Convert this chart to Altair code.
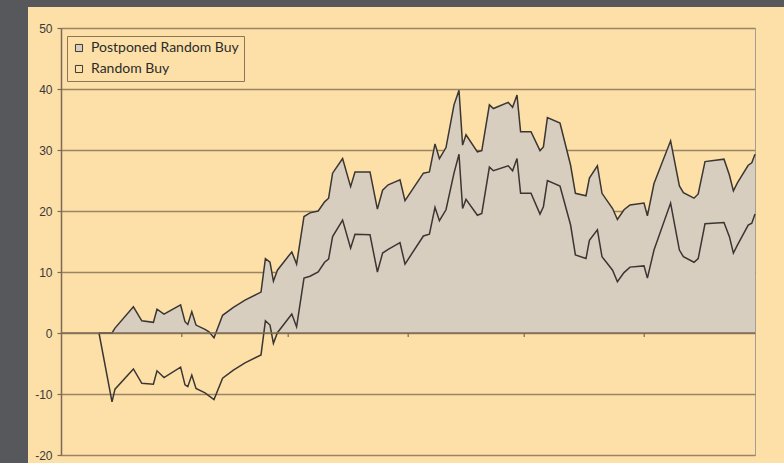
import altair as alt
import pandas as pd

# ---- data ----
days = [9.5, 12.75, 13.5, 18.1, 20.2, 23.1, 24, 25.75, 29.9, 31,
        31.7, 32.7, 33.75, 36, 37, 38.25, 40.4, 43.1, 46, 50,
        51.1, 52.25, 53.1, 54.1, 57.7, 58.9, 60.75, 62.25, 64.3, 65.9,
        66.9, 67.9, 70.4, 72.4, 73.5, 77.25, 79.1, 80.4, 81.8, 84.75,
        86, 90.6, 92.1, 93.5, 94.6, 96.25, 98.25, 99.5, 100.4, 101.25,
        104.1, 105.2, 107.1, 108.1, 111.8, 112.9, 114, 114.9, 117.5, 119.75,
        120.6, 121.6, 124.75, 127.4, 128.6, 131.25, 132.1, 134.1, 135.25, 137.9,
        139.1, 140.75, 142.25, 145.75, 146.6, 148.25, 152.4, 154.6, 155.6, 158.25,
        159.3, 161, 165.75, 167.1, 168.1, 169.1, 171.8, 172.7, 173.5]

postponed = [0, 0, 0.8, 4.3, 2.0, 1.75, 3.9, 3.1, 4.6, 1.85,
             1.4, 3.5, 1.3, 0.6, 0.2, -0.8, 2.9, 4.2, 5.4, 6.7,
             12.2, 11.6, 8.5, 10.3, 13.3, 11.3, 19.1, 19.7, 20.0, 21.5,
             22.1, 26.2, 28.6, 24.0, 26.4, 26.4, 20.3, 23.4, 24.3, 25.1,
             21.7, 26.2, 26.4, 31.0, 28.6, 30.4, 37.4, 39.8, 30.8, 32.5,
             29.7, 29.9, 37.4, 36.8, 37.8, 37.0, 39.0, 33.0, 33.0, 29.9,
             30.5, 35.3, 34.4, 27.5, 22.9, 22.5, 25.4, 27.4, 22.9, 20.4,
             18.6, 20.2, 21.0, 21.3, 19.2, 24.5, 31.5, 24.1, 23.0, 22.1,
             22.8, 28.1, 28.5, 25.9, 23.3, 24.6, 27.5, 27.9, 29.3]

random_buy = [0, -11.3, -9.2, -5.9, -8.25, -8.4, -6.2, -7.3, -5.6, -8.5,
              -8.8, -6.9, -9.1, -9.8, -10.3, -10.9, -7.4, -6.1, -4.9, -3.6,
              2.0, 1.3, -1.7, 0.05, 3.1, 1.0, 9.0, 9.3, 10.0, 11.6,
              12.1, 15.8, 18.5, 13.9, 16.2, 16.1, 10.0, 13.1, 13.7, 14.8,
              11.3, 15.9, 16.2, 20.6, 18.4, 20.2, 26.2, 29.3, 20.4, 21.9,
              19.3, 19.6, 27.2, 26.6, 27.4, 26.6, 28.6, 22.9, 22.9, 19.5,
              20.7, 25.0, 24.1, 17.7, 12.8, 12.2, 15.2, 16.9, 12.5, 10.3,
              8.4, 9.9, 10.8, 11.0, 9.0, 13.6, 21.3, 13.6, 12.5, 11.6,
              12.2, 17.9, 18.1, 15.8, 13.1, 14.4, 17.7, 18.0, 19.5]

series_names = ["Postponed Random Buy", "Random Buy"]
y_ticks = [50, 40, 30, 20, 10, 0, -10, -20]
x_tick_days = [30.2, 56.8, 86.8, 115.8, 145.8]

# ---- styling ----
W, H = 694, 427
PAD = {"left": 61, "top": 28, "right": 29, "bottom": 8}
DARK_BG = "#56585c"
PEACH = "#fde0a8"
GRAY_FILL = "#d8cec0"
LINE = "#3b3632"
GRID = "#9b8466"
AXIS = "#7d6a55"

n = len(days)
long_df = pd.DataFrame({
    "day": days + days,
    "value": postponed + random_buy,
    "series": [series_names[0]] * n + [series_names[1]] * n,
})
pp_df = pd.DataFrame({"day": days, "value": postponed, "series": series_names[0]})
ticks_df = pd.DataFrame({"day": x_tick_days})
zero_df = pd.DataFrame({"y": [0]})

x_scale = alt.Scale(domain=[0, 173.5], nice=False, zero=False)
y_scale = alt.Scale(domain=[-20, 50], nice=False)

X = alt.X("day:Q", scale=x_scale, axis=None)
Y = alt.Y("value:Q", scale=y_scale, stack=None,
          axis=alt.Axis(values=y_ticks, title=None, grid=True, gridColor=GRID,
                        gridWidth=1.5, domainColor=AXIS, domainWidth=1.5,
                        tickColor=AXIS, tickSize=4, tickWidth=1.2,
                        labelExpr="'' + datum.value",
                        labelFont="Liberation Sans", labelFontSize=12,
                        labelColor="#3a3a3a", labelPadding=5))

one = pd.DataFrame({"k": [0]})
left_strip = alt.Chart(one).mark_rect(color=DARK_BG).encode(
    x=alt.value(-PAD["left"]), x2=alt.value(-33),
    y=alt.value(-PAD["top"]), y2=alt.value(H + PAD["bottom"]))
top_strip = alt.Chart(one).mark_rect(color=DARK_BG).encode(
    x=alt.value(-PAD["left"]), x2=alt.value(W + PAD["right"]),
    y=alt.value(-PAD["top"]), y2=alt.value(-21))

area = alt.Chart(pp_df).mark_area(opacity=1).encode(
    x=X, y=Y,
    fill=alt.Fill("series:N",
                  scale=alt.Scale(domain=series_names, range=[GRAY_FILL, PEACH]),
                  legend=alt.Legend(title=None, orient="none", legendX=6, legendY=8,
                                    strokeColor="#8a7558", fillColor=PEACH,
                                    padding=5, cornerRadius=0,
                                    labelFont="Lato", labelFontSize=14,
                                    labelColor="#2b2b2b", labelOffset=5,
                                    symbolType="square", symbolSize=50,
                                    symbolStrokeColor="#3a3a3a",
                                    symbolStrokeWidth=1, symbolOpacity=1,
                                    rowPadding=7)),
)

lines = alt.Chart(long_df).mark_line(color=LINE, strokeWidth=1.5).encode(
    x=X, y=alt.Y("value:Q", scale=y_scale), detail="series:N")

zero_rule = alt.Chart(zero_df).mark_rule(color=AXIS, strokeWidth=1.5).encode(
    y=alt.Y("y:Q", scale=y_scale))

x_ticks = alt.Chart(ticks_df).mark_rule(color=AXIS, strokeWidth=1.2).encode(
    x=alt.X("day:Q", scale=x_scale), y=alt.datum(0), y2=alt.datum(-0.65))

chart = alt.layer(left_strip, top_strip, area, lines, zero_rule, x_ticks).properties(
    width=W, height=H, padding=PAD,
    autosize=alt.AutoSizeParams(type="none"),
    background=PEACH,
).configure_view(stroke="#a89e8f", strokeWidth=1)

chart.save("out.html", embed_options={"renderer": "svg", "actions": False})
